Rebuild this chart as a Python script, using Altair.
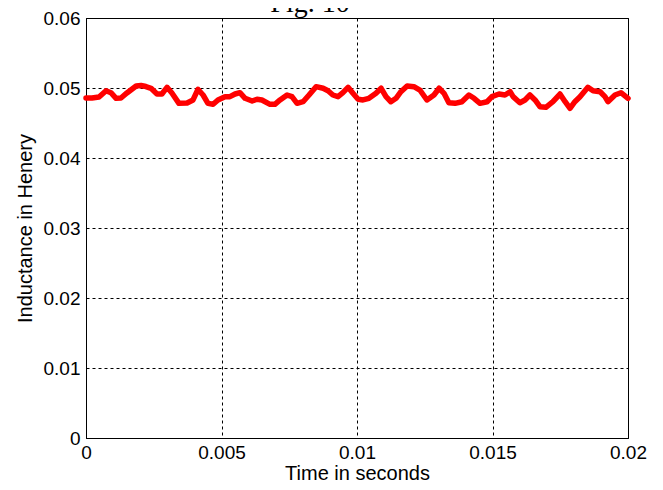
import altair as alt
import pandas as pd

# Time (s) and inductance (H)
time_s = [0.0, 0.00022, 0.00048, 0.00074, 0.00092, 0.00111, 0.00129, 0.00151, 0.00185, 0.00203,
          0.00221, 0.00240, 0.00262, 0.00280, 0.00299, 0.00317, 0.00343, 0.00373, 0.00395, 0.00413,
          0.00432, 0.00450, 0.00469, 0.00487, 0.00513, 0.00531, 0.00550, 0.00568, 0.00587, 0.00613,
          0.00631, 0.00649, 0.00679, 0.00697, 0.00716, 0.00742, 0.00760, 0.00779, 0.00801, 0.00823,
          0.00849, 0.00875, 0.00893, 0.00911, 0.00930, 0.00948, 0.00967, 0.00985, 0.01004, 0.01022,
          0.01044, 0.01070, 0.01089, 0.01107, 0.01125, 0.01144, 0.01162, 0.01185, 0.01210, 0.01232,
          0.01258, 0.01284, 0.01303, 0.01321, 0.01339, 0.01362, 0.01387, 0.01413, 0.01432, 0.01454,
          0.01480, 0.01498, 0.01524, 0.01546, 0.01565, 0.01576, 0.01601, 0.01620, 0.01638, 0.01657,
          0.01675, 0.01697, 0.01723, 0.01749, 0.01768, 0.01786, 0.01804, 0.01823, 0.01852, 0.01871,
          0.01897, 0.01915, 0.01926, 0.01952, 0.01974, 0.02000]
inductance = [0.04857, 0.04857, 0.04871, 0.04961, 0.04933, 0.04853, 0.04857, 0.04929, 0.05029, 0.05036,
              0.05021, 0.04996, 0.04914, 0.04914, 0.05010, 0.04929, 0.04781, 0.04786, 0.04829, 0.04981,
              0.04900, 0.04781, 0.04767, 0.04829, 0.04876, 0.04876, 0.04914, 0.04933, 0.04853, 0.04814,
              0.04839, 0.04829, 0.04767, 0.04767, 0.04829, 0.04900, 0.04876, 0.04781, 0.04804, 0.04900,
              0.05019, 0.04996, 0.04961, 0.04900, 0.04876, 0.04933, 0.05010, 0.04924, 0.04839, 0.04829,
              0.04853, 0.04924, 0.04996, 0.04876, 0.04804, 0.04853, 0.04947, 0.05029, 0.05019, 0.04971,
              0.04829, 0.04900, 0.04996, 0.04924, 0.04790, 0.04781, 0.04804, 0.04900, 0.04853, 0.04781,
              0.04804, 0.04876, 0.04914, 0.04900, 0.04947, 0.04876, 0.04790, 0.04829, 0.04900, 0.04829,
              0.04733, 0.04724, 0.04804, 0.04914, 0.04804, 0.04710, 0.04804, 0.04876, 0.05010, 0.04961,
              0.04947, 0.04876, 0.04804, 0.04900, 0.04933, 0.04853]

x_ticks = [0, 0.005, 0.01, 0.015, 0.02]
y_ticks = [0, 0.01, 0.02, 0.03, 0.04, 0.05, 0.06]
fig_title = ["Fig. 10"]

df = pd.DataFrame({"t": time_s, "L": inductance})
title_df = pd.DataFrame({"label": fig_title})

FONT = "Liberation Sans"

line = alt.Chart(df).mark_line(color="#ff0000", strokeWidth=5.5, strokeJoin="round", strokeCap="round").encode(
    x=alt.X("t:Q", scale=alt.Scale(domain=[0, 0.02], nice=False),
            axis=alt.Axis(values=x_ticks, format="~g", title="Time in seconds",
                          labelFlush=False, labelOverlap=False, ticks=False, labelPadding=5,
                          titlePadding=1)),
    y=alt.Y("L:Q", scale=alt.Scale(domain=[0, 0.06], nice=False),
            axis=alt.Axis(values=y_ticks, format="~g", title="Inductance in Henery",
                          labelFlush=False, labelOverlap=False, ticks=False, labelPadding=6,
                          titlePadding=8)),
)

title_text = alt.Chart(title_df).mark_text(
    font="Liberation Serif", fontSize=28, color="black", align="center", baseline="alphabetic"
).encode(
    x=alt.value(224), y=alt.value(-6), text="label:N"
)

chart = alt.layer(line, title_text).properties(
    width=542, height=420,
    background="white",
    autosize=alt.AutoSizeParams(type="none"),
    padding={"left": 78, "top": 10, "right": 27, "bottom": 44},
).configure_view(
    stroke="black", strokeWidth=1
).configure_axis(
    labelFont=FONT, labelFontSize=19, labelColor="black",
    titleFont=FONT, titleFontSize=20, titleFontWeight="normal", titleColor="black",
    domainColor="black", domainWidth=1,
    grid=True, gridColor="black", gridDash=[3, 3], gridWidth=1, gridOpacity=1,
)

chart.save("out.html", embed_options={"renderer": "svg", "actions": False})
